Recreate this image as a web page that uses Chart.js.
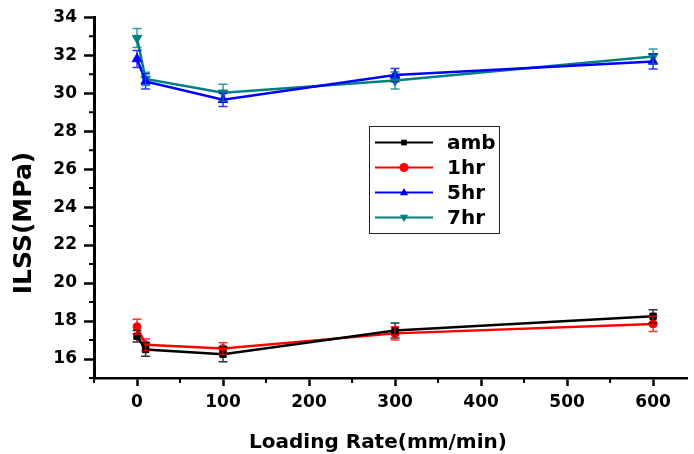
<!DOCTYPE html>
<html>
<head>
<meta charset="utf-8">
<script src="https://cdn.jsdelivr.net/npm/chart.js@4.4.1/dist/chart.umd.min.js"></script>
<style>
  html, body { margin: 0; padding: 0; background: #fff; }
  #wrap { width: 694px; height: 454px; }
</style>
</head>
<body>
<div id="wrap"><canvas id="ilss-chart"></canvas></div>
<script>
// loading rates (mm/min)
const rates = [0, 10, 100, 300, 600];

// ILSS values (MPa) and their error bars
const ambVals = [17.2, 16.5, 16.25, 17.5, 18.25];
const ambErr = [0.3, 0.35, 0.4, 0.4, 0.35];
const hr1Vals = [17.7, 16.75, 16.55, 17.35, 17.85];
const hr1Err = [0.4, 0.3, 0.3, 0.35, 0.4];
const hr5Vals = [31.8, 30.62, 29.65, 30.95, 31.67];
const hr5Err = [0.45, 0.4, 0.35, 0.35, 0.4];
const hr7Vals = [32.9, 30.75, 30.02, 30.67, 31.93];
const hr7Err = [0.5, 0.35, 0.45, 0.45, 0.4];

const seriesNames = ['amb', '1hr', '5hr', '7hr'];

// axis ticks
const xTicks = [0, 100, 200, 300, 400, 500, 600];
const xMinor = [-50, 50, 150, 250, 350, 450, 550];
const yTicks = [16, 18, 20, 22, 24, 26, 28, 30, 32, 34];
const yMinor = [15, 17, 19, 21, 23, 25, 27, 29, 31, 33];

const xTitle = 'Loading Rate(mm/min)';
const yTitle = 'ILSS(MPa)';

const FONT = '"DejaVu Sans", "Liberation Sans", Arial, sans-serif';

function makeSet(label, vals, errs, color, style, radius, rotation){
  return {
    label: label,
    data: rates.map((x, i) => ({x: x, y: vals[i]})),
    errors: errs,
    borderColor: color,
    backgroundColor: color,
    borderWidth: 2.5,
    pointStyle: style,
    pointRadius: radius,
    pointRotation: rotation || 0,
    pointBorderWidth: 1,
    tension: 0
  };
}

const datasets = [
  makeSet(seriesNames[0], ambVals, ambErr, '#000000', 'rect', 4.5),
  makeSet(seriesNames[1], hr1Vals, hr1Err, '#ff0000', 'circle', 4),
  makeSet(seriesNames[2], hr5Vals, hr5Err, '#0000ff', 'triangle', 5.5),
  makeSet(seriesNames[3], hr7Vals, hr7Err, '#008080', 'triangle', 5.5, 180)
];

// draw a marker shape for the legend
function marker(ctx, ds, x, y, r){
  ctx.save();
  ctx.fillStyle = ds.borderColor;
  ctx.beginPath();
  if (ds.pointStyle === 'rect') {
    const s = r * Math.SQRT1_2;
    ctx.rect(x - s, y - s, 2 * s, 2 * s);
  } else if (ds.pointStyle === 'circle') {
    ctx.arc(x, y, r, 0, Math.PI * 2);
  } else {
    const dir = ds.pointRotation === 180 ? -1 : 1;
    ctx.moveTo(x, y - dir * r);
    ctx.lineTo(x + r * 0.9, y + dir * r * 0.6);
    ctx.lineTo(x - r * 0.9, y + dir * r * 0.6);
    ctx.closePath();
  }
  ctx.fill();
  ctx.restore();
}

const errorBars = {
  id: 'errorBars',
  afterDatasetsDraw(chart){
    const ctx = chart.ctx;
    const xs = chart.scales.x, ys = chart.scales.y;
    chart.data.datasets.forEach(ds => {
      ctx.save();
      ctx.strokeStyle = ds.borderColor;
      ctx.globalAlpha = 0.8;
      ctx.lineWidth = 1.5;
      ds.data.forEach((p, i) => {
        const px = xs.getPixelForValue(p.x);
        const top = ys.getPixelForValue(p.y + ds.errors[i]);
        const bot = ys.getPixelForValue(p.y - ds.errors[i]);
        ctx.beginPath();
        ctx.moveTo(px, top); ctx.lineTo(px, bot);
        ctx.moveTo(px - 4.5, top); ctx.lineTo(px + 4.5, top);
        ctx.moveTo(px - 4.5, bot); ctx.lineTo(px + 4.5, bot);
        ctx.stroke();
      });
      ctx.restore();
    });
  }
};

const extras = {
  id: 'extras',
  afterDraw(chart){
    const ctx = chart.ctx;
    const xs = chart.scales.x, ys = chart.scales.y;
    const area = chart.chartArea;
    ctx.save();
    // minor ticks
    ctx.strokeStyle = '#000';
    ctx.lineWidth = 2;
    ctx.beginPath();
    xMinor.forEach(v => {
      const px = xs.getPixelForValue(v);
      ctx.moveTo(px, area.bottom); ctx.lineTo(px, area.bottom + 5);
    });
    yMinor.forEach(v => {
      const py = ys.getPixelForValue(v);
      ctx.moveTo(area.left, py); ctx.lineTo(area.left - 5, py);
    });
    ctx.stroke();

    // axis titles
    ctx.fillStyle = '#000';
    ctx.textAlign = 'center';
    ctx.textBaseline = 'middle';
    ctx.font = 'bold 20px ' + FONT;
    ctx.fillText(xTitle, 378, 443);
    ctx.translate(24, 223);
    ctx.rotate(-Math.PI / 2);
    ctx.font = 'bold 25px ' + FONT;
    ctx.fillText(yTitle, 0, 0);
    ctx.restore();

    // legend box
    ctx.save();
    ctx.strokeStyle = '#222';
    ctx.lineWidth = 1;
    ctx.strokeRect(369.5, 126.5, 130, 107);
    ctx.font = 'bold 20px ' + FONT;
    ctx.textBaseline = 'middle';
    ctx.fillStyle = '#000';
    chart.data.datasets.forEach((ds, i) => {
      const y = 142.5 + i * 25;
      ctx.strokeStyle = ds.borderColor;
      ctx.lineWidth = 2;
      ctx.beginPath();
      ctx.moveTo(375, y); ctx.lineTo(433, y);
      ctx.stroke();
      marker(ctx, ds, 404, y, ds.pointStyle === 'rect' ? 4 : 4.5);
      ctx.fillStyle = '#000';
      ctx.fillText(ds.label, 447, y + 1);
    });
    ctx.restore();
  }
};

const ctx = document.getElementById('ilss-chart').getContext('2d');
const myChart = new Chart(ctx, {
  type: 'line',
  data: { datasets: datasets },
  options: {
    responsive: true,
    maintainAspectRatio: false,
    animation: false,
    layout: { padding: { top: 17, right: 0, left: 0, bottom: 0 } },
    plugins: { legend: { display: false }, tooltip: { enabled: false } },
    scales: {
      x: {
        type: 'linear',
        min: -50,
        max: 640,
        afterBuildTicks: s => { s.ticks = xTicks.map(v => ({value: v})); },
        afterFit: s => { s.height = 76; },
        grid: { drawOnChartArea: false, tickLength: 8, tickWidth: 2.5, tickColor: '#000' },
        border: { color: '#000', width: 2.5 },
        ticks: { color: '#000', padding: 6, maxRotation: 0, font: { family: FONT, size: 17, weight: 'bold' } }
      },
      y: {
        min: 15,
        max: 34,
        afterBuildTicks: s => { s.ticks = yTicks.map(v => ({value: v})); },
        afterFit: s => { s.width = 94; },
        grid: { drawOnChartArea: false, tickLength: 10, tickWidth: 2.5, tickColor: '#000' },
        border: { color: '#000', width: 3 },
        ticks: { color: '#000', padding: 7, font: { family: FONT, size: 17, weight: 'bold' } }
      }
    }
  },
  plugins: [errorBars, extras]
});
</script>
</body>
</html>
